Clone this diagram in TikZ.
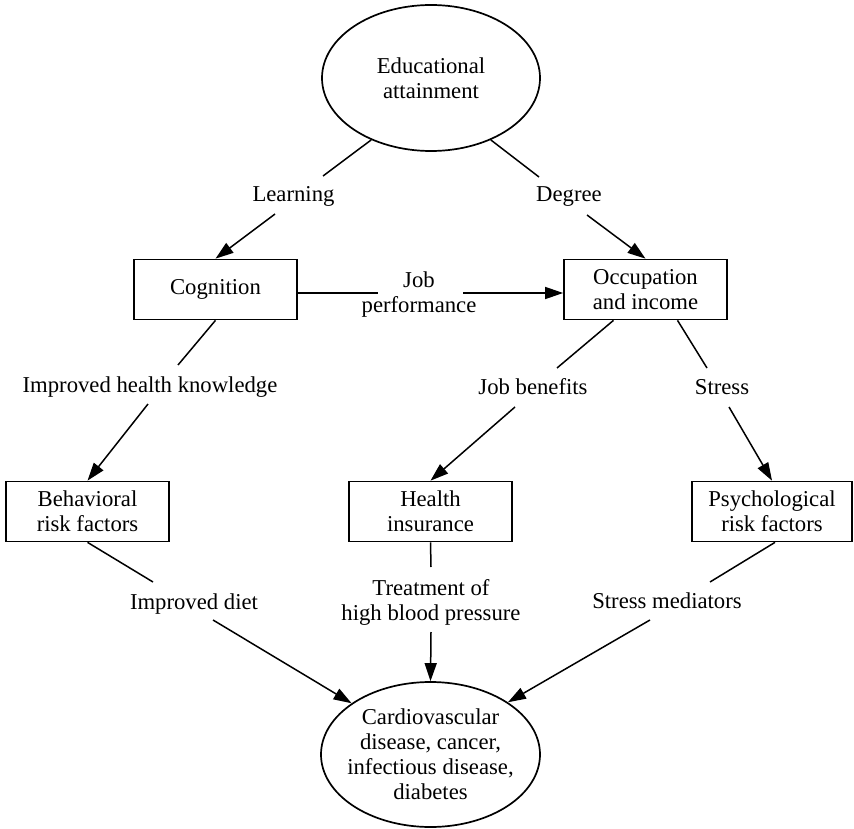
\documentclass[tikz,border=0pt]{standalone}
\usepackage{fontspec}
\setmainfont{Liberation Serif}
\usetikzlibrary{arrows.meta,shapes.geometric}
\begin{document}
\begin{tikzpicture}[x=1pt,y=-1pt,
  font=\fontsize{22.7}{25}\selectfont,
  box/.style={draw, line width=1.7pt, minimum width=163pt, minimum height=60pt, inner sep=0pt, align=center},
  oval/.style={draw, ellipse, line width=1.7pt, inner sep=0pt},
  lab/.style={inner sep=0pt, align=center},
  conn/.style={line width=1.5pt},
  arr/.style={conn, -{Triangle[length=18pt,width=12pt]}}]
\useasboundingbox (0,0) rectangle (854,829);

% shapes
\node[oval, minimum width=218pt, minimum height=146pt] (edu) at (431,78) {};
\node[lab] (edutxt) at (edu.center) {Educational\\attainment};
\node[box] (cog) at (215.5,289.5) {Cognition};
\node[box] (occ) at (645.5,289.5) {Occupation\\and income};
\node[box] (beh) at (87.5,511.5) {Behavioral\\risk factors};
\node[box] (hea) at (430.5,511.5) {Health\\insurance};
\node[box, minimum width=160pt] (psy) at (772,511.5) {Psychological\\risk factors};
\node[oval, minimum width=219pt, minimum height=145pt] (out) at (430.5,754.5) {};
\node[lab] (outtxt) at (out.center) {Cardiovascular\\disease, cancer,\\infectious disease,\\diabetes};

% labels
\node[lab, anchor=base] (learn) at (293.5,202) {Learning};
\node[lab, anchor=base] (deg) at (569,202) {Degree};
\node[lab] (jp) at (419,295) {Job\\performance};
\node[lab, anchor=base] (ihk) at (150,392) {Improved health knowledge};
\node[lab, anchor=base] (jb) at (533,394) {Job benefits};
\node[lab, anchor=base] (st) at (722,394) {Stress};
\node[lab, anchor=base] (id) at (194,609) {Improved diet};
\node[lab] (tr) at (431,602) {Treatment of\\high blood pressure};
\node[lab, anchor=base] (sm) at (667,608) {Stress mediators};

% connector end points at labels
\coordinate (learnA) at (323,176);
\coordinate (learnB) at (275,214);
\coordinate (degA) at (539,177);
\coordinate (degB) at (587,215);
\coordinate (jpA) at (378,293);
\coordinate (jpB) at (463,293);
\coordinate (ihkA) at (178,365);
\coordinate (ihkB) at (148,404);
\coordinate (jbA) at (557,368);
\coordinate (jbB) at (515,407);
\coordinate (stA) at (707,368);
\coordinate (stB) at (729,407);
\coordinate (trA) at (431,567);
\coordinate (trB) at (431,632);
\coordinate (idA) at (153,582);
\coordinate (idB) at (213,620);
\coordinate (smA) at (710,582);
\coordinate (smB) at (650,620);

% connectors
\draw[conn] (edu.226) -- (learnA);
\draw[arr] (learnB) -- (cog.north);
\draw[conn] (edu.314.5) -- (degA);
\draw[arr] (degB) -- (occ.north);
\draw[conn] ([yshift=-3.5pt]cog.east) -- (jpA);
\draw[arr] (jpB) -- ([yshift=-3.5pt]occ.west);
\draw[conn] (cog.south) -- (ihkA);
\draw[arr] (ihkB) -- (beh.north);
\draw[conn] ([xshift=-32pt]occ.south) -- (jbA);
\draw[arr] (jbB) -- (hea.north);
\draw[conn] ([xshift=32pt]occ.south) -- (stA);
\draw[arr] (stB) -- (psy.north);
\draw[conn] (hea.south) -- (trA);
\draw[arr] (trB) -- (out.north);
\draw[conn] (beh.south) -- (idA);
\draw[arr] (idB) -- (out.147);
\draw[conn] ([xshift=3pt]psy.south) -- (smA);
\draw[arr] (smB) -- (out.34);
\end{tikzpicture}
\end{document}
